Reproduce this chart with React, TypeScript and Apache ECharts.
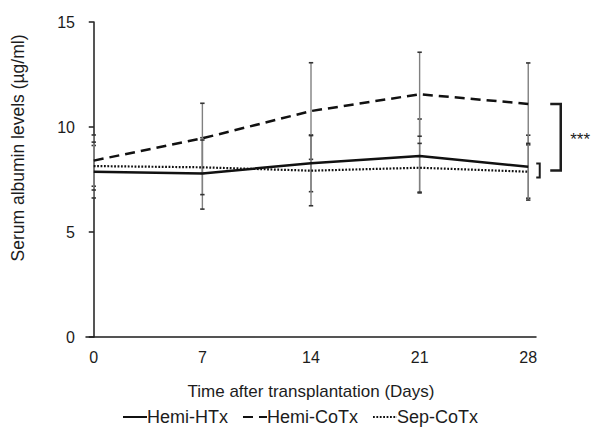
import React, { useEffect, useRef } from "react";
import * as echarts from "echarts";

const days = [0, 7, 14, 21, 28];
const hemiHTx = [7.87, 7.79, 8.27, 8.62, 8.11];
const hemiHTxSd = [1.25, 1.7, 1.35, 1.76, 1.5];
const hemiCoTx = [8.4, 9.46, 10.76, 11.56, 11.1];
const hemiCoTxSd = [1.22, 1.67, 2.3, 2.0, 1.95];
const sepCoTx = [8.14, 8.08, 7.92, 8.06, 7.87];
const sepCoTxSd = [1.14, 1.3, 1.67, 1.16, 1.35];
const yTicks = [0, 5, 10, 15];
const seriesNames = ["Hemi-HTx", "Hemi-CoTx", "Sep-CoTx"];

const FONT = "'Liberation Sans', Arial, sans-serif";
const INK = "#1c1c1c";

function errData(mean: number[], sd: number[]) {
  return days.map((d, i) => [d, mean[i] - sd[i], mean[i] + sd[i]]);
}

function errSeries(name: string, mean: number[], sd: number[]) {
  return {
    type: "custom",
    name: name + " SD",
    z: 1,
    silent: true,
    data: errData(mean, sd),
    renderItem: (_p: any, api: any) => {
      const x = api.value(0);
      const lo = api.coord([x, api.value(1)]);
      const hi = api.coord([x, api.value(2)]);
      const c = 2.2;
      return {
        type: "group",
        children: [
          { type: "line", shape: { x1: lo[0], y1: lo[1], x2: hi[0], y2: hi[1] }, style: { stroke: "#808080", lineWidth: 1.4 } },
          { type: "line", shape: { x1: hi[0] - c, y1: hi[1], x2: hi[0] + c, y2: hi[1] }, style: { stroke: "#333", lineWidth: 1.6 } },
          { type: "line", shape: { x1: lo[0] - c, y1: lo[1], x2: lo[0] + c, y2: lo[1] }, style: { stroke: "#333", lineWidth: 1.6 } },
        ],
      };
    },
  };
}

function lineSeries(name: string, vals: number[], type: any, width: number) {
  return {
    type: "line",
    name,
    z: 3,
    symbol: "none",
    data: days.map((d, i) => [d, vals[i]]),
    lineStyle: { color: "#111", width, type },
    itemStyle: { color: "#111" },
  };
}

export default function App() {
  const ref = useRef<HTMLDivElement>(null);
  useEffect(() => {
    if (!ref.current) return;
    const chart = echarts.init(ref.current, undefined, { renderer: "svg" });
    const option: any = {
      animation: false,
      textStyle: { fontFamily: FONT },
      grid: { left: 86, right: 57, top: 22, bottom: 100 },
      xAxis: {
        type: "value",
        min: -0.5,
        max: 28.5,
        name: "Time after transplantation (Days)",
        nameLocation: "middle",
        nameGap: 46,
        nameTextStyle: { fontSize: 17, color: INK, fontFamily: FONT },
        axisLine: { show: true, lineStyle: { color: INK, width: 1.5 } },
        axisTick: { show: false },
        splitLine: { show: false },
        axisLabel: { customValues: days, fontSize: 16, color: INK, margin: 12, fontFamily: FONT },
      },
      yAxis: {
        type: "value",
        min: 0,
        max: 15,
        interval: 5,
        axisLine: { show: true, lineStyle: { color: INK, width: 1.5 } },
        axisTick: { show: true, length: 5, customValues: yTicks, lineStyle: { color: INK, width: 1.5 } },
        splitLine: { show: false },
        axisLabel: { fontSize: 16, color: INK, margin: 11, fontFamily: FONT },
      },
      legend: {
        data: seriesNames,
        left: 122,
        top: 408,
        padding: 0,
        itemWidth: 24,
        itemHeight: 14,
        itemGap: 14,
        itemStyle: { opacity: 0 },
        textStyle: { fontSize: 18, color: INK, fontFamily: FONT, padding: [0, 0, 0, -5] },
      },
      series: [
        errSeries("Hemi-HTx", hemiHTx, hemiHTxSd),
        errSeries("Hemi-CoTx", hemiCoTx, hemiCoTxSd),
        errSeries("Sep-CoTx", sepCoTx, sepCoTxSd),
        lineSeries("Hemi-HTx", hemiHTx, "solid", 2.5),
        lineSeries("Hemi-CoTx", hemiCoTx, [10, 6], 2.5),
        lineSeries("Sep-CoTx", sepCoTx, [1.8, 1.6], 2.2),
      ],
      graphic: [
        {
          type: "text",
          x: 18,
          y: 148,
          rotation: Math.PI / 2,
          style: {
            text: "Serum albumin levels (µg/ml)",
            fontSize: 17.5,
            fill: INK,
            fontFamily: FONT,
            align: "center",
            verticalAlign: "middle",
          },
        },
      ],
    };
    chart.setOption(option);

    const last = days.length - 1;
    const px = (v: number) => chart.convertToPixel({ gridIndex: 0 }, [days[last], v]) as number[];
    const smallTop = px(hemiHTx[last] + 0.15);
    const smallBot = px(sepCoTx[last] - 0.27);
    const bigTop = px(hemiCoTx[last]);
    const bigBot = [bigTop[0], (smallTop[1] + smallBot[1]) / 2];
    const x0 = bigTop[0];
    option.graphic.push(
      {
        type: "polyline",
        shape: { points: [[x0 + 8, smallTop[1]], [x0 + 11.5, smallTop[1]], [x0 + 11.5, smallBot[1]], [x0 + 8, smallBot[1]]] },
        style: { stroke: INK, lineWidth: 2, fill: "none" },
      },
      {
        type: "polyline",
        shape: { points: [[x0 + 22, bigTop[1]], [x0 + 32.5, bigTop[1]], [x0 + 32.5, bigBot[1]], [x0 + 22, bigBot[1]]] },
        style: { stroke: INK, lineWidth: 2.5, fill: "none" },
      },
      {
        type: "text",
        x: x0 + 42,
        y: (bigTop[1] + bigBot[1]) / 2 + 2,
        style: { text: "***", fontSize: 17, fill: INK, fontFamily: FONT, align: "left", verticalAlign: "middle" },
      }
    );
    chart.setOption({ graphic: option.graphic });
    return () => chart.dispose();
  }, []);
  return <div ref={ref} style={{ position: "fixed", left: 0, top: 0, width: 593, height: 437, background: "#fff" }} />;
}
